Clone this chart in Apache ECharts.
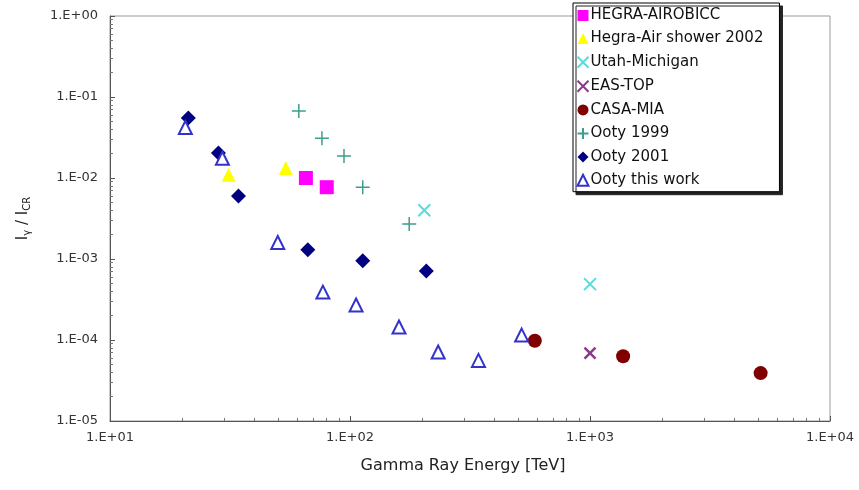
<!DOCTYPE html>
<html><head><meta charset="utf-8">
<script src="https://cdn.jsdelivr.net/npm/echarts@6/dist/echarts.min.js"></script>
<style>html,body{margin:0;padding:0;background:#fff}#c{width:859px;height:490px}</style>
</head><body><div id="c"></div>
<script>
const seriesNames = ['HEGRA-AIROBICC','Hegra-Air shower 2002','Utah-Michigan','EAS-TOP','CASA-MIA','Ooty 1999','Ooty 2001','Ooty this work'];
const hegraAirobicc = [[65.5,1.0e-2],[80,7.7e-3]];
const hegraAir2002 = [[31.2,1.1e-2],[54,1.33e-2]];
const utahMichigan = [[204,4.0e-3],[1000,4.9e-4]];
const easTop = [[1000,6.9e-5]];
const casaMia = [[589,9.8e-5],[1374,6.3e-5],[5140,3.9e-5]];
const ooty1999 = [[61.2,6.7e-2],[76.4,3.1e-2],[94.4,1.87e-2],[113,7.7e-3],[176.5,2.7e-3]];
const ooty2001 = [[21.2,5.5e-2],[28.3,2.04e-2],[34.3,6.0e-3],[66.7,1.3e-3],[113,9.5e-4],[208,7.1e-4]];
const ootyThisWork = [[20.6,4.2e-2],[29.4,1.75e-2],[50,1.6e-3],[77.1,3.9e-4],[106,2.7e-4],[160,1.45e-4],[233,7.1e-5],[343,5.6e-5],[519,1.15e-4]];

function fmt(v){
  const e = Math.round(Math.log10(v));
  const a = Math.abs(e);
  return '1.E' + (e < 0 ? '-' : '+') + (a < 10 ? '0' : '') + a;
}
const crossPath = 'path://M0,0L10,10M10,0L0,10';
const plusPath = 'path://M5,0L5,10M0,5L10,5';
const font = '"DejaVu Sans", sans-serif';

const chart = echarts.init(document.getElementById('c'));
chart.setOption({
  animation: false,
  backgroundColor: '#fff',
  textStyle: {fontFamily: font},
  grid: {left: 110, right: 29, top: 16, bottom: 69, show: true, borderColor: '#999', borderWidth: 1},
  legend: {
    orient: 'vertical', left: 573, top: 3,
    data: seriesNames,
    itemWidth: 11, itemHeight: 11, itemGap: 8.1,
    padding: [5, 16, 4, 2],
    textStyle: {fontSize: 15, lineHeight: 14, color: '#111', fontFamily: font, padding: [0, 0, 0, -3]},
    backgroundColor: '#fff', borderColor: '#000', borderWidth: 1,
    shadowColor: '#222', shadowOffsetX: 3, shadowOffsetY: 3, shadowBlur: 0
  },
  xAxis: {
    type: 'log', logBase: 10, min: 10, max: 10000,
    name: 'Gamma Ray Energy [TeV]', nameLocation: 'middle', nameGap: 37,
    nameTextStyle: {fontSize: 16, color: '#222', padding: [0, 14, 0, 0]},
    axisLine: {lineStyle: {color: '#555'}},
    axisTick: {inside: true, length: 5, lineStyle: {color: '#555'}},
    minorTick: {show: true, splitNumber: 9, length: 3, lineStyle: {color: '#777'}},
    splitLine: {show: false},
    axisLabel: {formatter: fmt, fontSize: 13, color: '#333', margin: 10}
  },
  yAxis: {
    type: 'log', logBase: 10, min: 1e-5, max: 1,
    name: '{i|I}{s|γ}{i| / I}{s|CR}', nameLocation: 'middle', nameGap: 78,
    nameTextStyle: {rich: {i: {fontSize: 15, color: '#222', fontFamily: font}, s: {fontSize: 10, color: '#222', fontFamily: font, padding: [7, 0, 0, 0]}}},
    axisLine: {lineStyle: {color: '#555'}},
    axisTick: {inside: true, length: 5, lineStyle: {color: '#555'}},
    minorTick: {show: true, splitNumber: 9, length: 3, lineStyle: {color: '#777'}},
    splitLine: {show: false},
    axisLabel: {formatter: fmt, fontSize: 13, color: '#333', margin: 12}
  },
  series: [
    {name: seriesNames[0], type: 'scatter', data: hegraAirobicc, symbol: 'rect', symbolSize: 14, itemStyle: {color: '#FF00FF', opacity: 1}},
    {name: seriesNames[1], type: 'scatter', data: hegraAir2002, symbol: 'triangle', symbolSize: 14, itemStyle: {color: '#FFFF00', opacity: 1}},
    {name: seriesNames[2], type: 'scatter', data: utahMichigan, symbol: crossPath, symbolSize: 12, itemStyle: {color: 'none', borderColor: '#55DDDD', borderWidth: 2, opacity: 1}},
    {name: seriesNames[3], type: 'scatter', data: easTop, symbol: crossPath, symbolSize: 11, itemStyle: {color: 'none', borderColor: '#8B3A8B', borderWidth: 2.5, opacity: 1}},
    {name: seriesNames[4], type: 'scatter', data: casaMia, symbol: 'circle', symbolSize: 14, itemStyle: {color: '#800000', opacity: 1}},
    {name: seriesNames[5], type: 'scatter', data: ooty1999, symbol: plusPath, symbolSize: 14, itemStyle: {color: 'none', borderColor: '#3E9E8E', borderWidth: 1.5, opacity: 1}},
    {name: seriesNames[6], type: 'scatter', data: ooty2001, symbol: 'diamond', symbolSize: 15, itemStyle: {color: '#000080', opacity: 1}},
    {name: seriesNames[7], type: 'scatter', data: ootyThisWork, symbol: 'emptyTriangle', symbolSize: 13, itemStyle: {color: '#3333CC', borderWidth: 1.5, opacity: 1}}
  ]
});
</script>
</body></html>
